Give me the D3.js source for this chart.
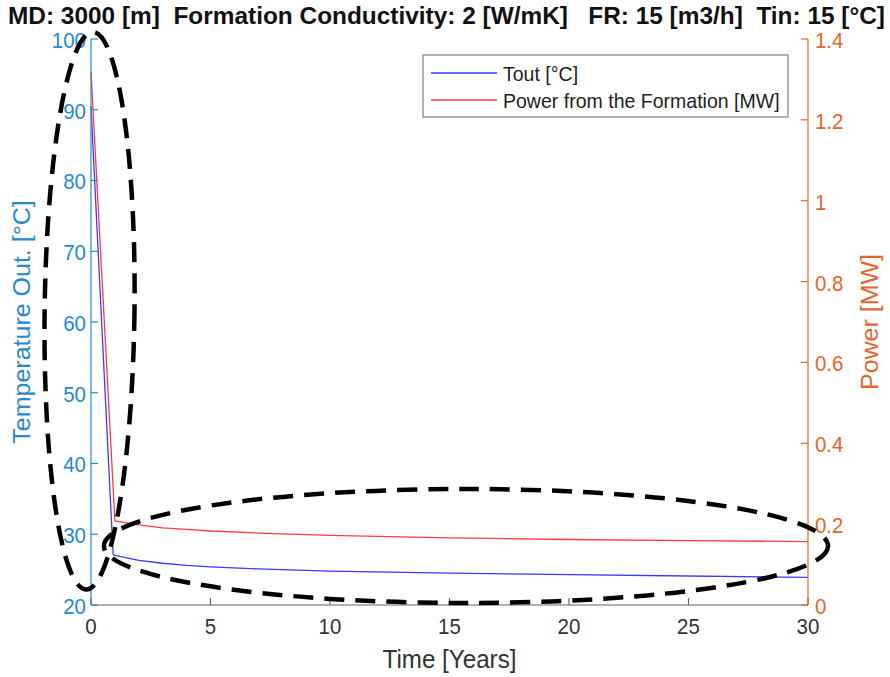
<!DOCTYPE html>
<html><head><meta charset="utf-8">
<script src="https://cdn.jsdelivr.net/npm/d3@7/dist/d3.min.js"></script>
<style>
html,body{margin:0;padding:0;background:#fff;}
svg{display:block;font-family:"Liberation Sans",Arial,Helvetica,sans-serif;}
.pre{white-space:pre;}
</style></head>
<body>
<svg id="chart" width="890" height="677"></svg>
<script>
// ---- data ----
const titleText = "MD: 3000 [m]  Formation Conductivity: 2 [W/mK]   FR: 15 [m3/h]  Tin: 15 [°C]";
const toutTime  = [0, 0.88, 0.93, 1, 2, 3, 4, 5, 7, 10, 15, 20, 25, 30];
const toutValue = [90.5, 30.2, 27.1, 27.0, 26.3, 25.9, 25.6, 25.4, 25.1, 24.8, 24.5, 24.3, 24.1, 23.9];
const powerTime  = [0, 1, 1.5, 2, 3, 4, 5, 7, 10, 15, 20, 25, 30];
const powerValue = [1.32, 0.208, 0.203, 0.198, 0.191, 0.187, 0.183, 0.178, 0.172, 0.166, 0.162, 0.159, 0.157];
const xTicks = [0, 5, 10, 15, 20, 25, 30];
const yLeftTicks = [20, 30, 40, 50, 60, 70, 80, 90, 100];
const yRightTicks = [0, 0.2, 0.4, 0.6, 0.8, 1, 1.2, 1.4];
const legendLabels = ["Tout [°C]", "Power from the Formation [MW]"];
// annotation ellipses in data units (time, temperature): cx, cy, rx, ry, rotation
const ellipseCx = [-0.06, 15.69];
const ellipseCy = [61.6, 28.34];
const ellipseRx = [1.88, 15.15];
const ellipseRy = [39.4, 8.06];
const ellipseRot = [0.7, 0];

// ---- layout ----
const L = 91, R = 808, T = 39, B = 605;
const sx = 0.93;
const cBlue = "#2589D0", cOrange = "#E5652E", cText = "#333333";

const svg = d3.select("#chart");
const x = d3.scaleLinear().domain([0, 30]).range([L, R]);
const yL = d3.scaleLinear().domain([20, 100]).range([B, T]);
const yR = d3.scaleLinear().domain([0, 1.4]).range([B, T]);

function txt(g, xx, yy, s, opts) {
  const t = g.append("text")
    .attr("transform", `translate(${xx},${yy}) scale(${opts.sx ?? sx},1)` + (opts.rot ? ` rotate(${opts.rot})` : ""))
    .attr("font-size", opts.size)
    .attr("fill", opts.fill)
    .attr("text-anchor", opts.anchor || "start")
    .attr("font-weight", opts.weight || "normal")
    .text(s);
  if (opts.dy) t.attr("dy", opts.dy);
  return t;
}

// lines
const lineT = d3.line().x((d, i) => x(toutTime[i])).y(d => yL(d));
const lineP = d3.line().x((d, i) => x(powerTime[i])).y(d => yR(d));
svg.append("path").datum(powerValue).attr("d", lineP)
  .attr("fill", "none").attr("stroke", "#ff3b3b").attr("stroke-width", 1.3);
svg.append("path").datum(toutValue).attr("d", lineT)
  .attr("fill", "none").attr("stroke", "#3b3bff").attr("stroke-width", 1.3);

// bottom axis
const gx = svg.append("g");
gx.append("line").attr("x1", L).attr("x2", R).attr("y1", B).attr("y2", B)
  .attr("stroke", "#666").attr("stroke-width", 1.2);
xTicks.forEach(v => {
  gx.append("line").attr("x1", x(v)).attr("x2", x(v)).attr("y1", B).attr("y2", B - 7)
    .attr("stroke", "#666").attr("stroke-width", 1.2);
  txt(gx, x(v), B + 29, String(v), {size: 22, fill: cText, anchor: "middle"});
});
txt(gx, (L + R) / 2, 668, "Time [Years]", {size: 26, fill: cText, anchor: "middle"});

// left axis
const gl = svg.append("g");
gl.append("line").attr("x1", L).attr("x2", L).attr("y1", T).attr("y2", B)
  .attr("stroke", cBlue).attr("stroke-width", 1.2);
yLeftTicks.forEach(v => {
  gl.append("line").attr("x1", L).attr("x2", L + 7).attr("y1", yL(v)).attr("y2", yL(v))
    .attr("stroke", cBlue).attr("stroke-width", 1.2);
  txt(gl, L - 5, yL(v) + 1, String(v), {size: 22, fill: cBlue, anchor: "end", dy: "0.36em"});
});
txt(gl, 30, (T + B) / 2, "Temperature Out. [°C]", {size: 25, fill: cBlue, anchor: "middle", rot: -90});

// right axis
const gr = svg.append("g");
gr.append("line").attr("x1", R).attr("x2", R).attr("y1", T).attr("y2", B)
  .attr("stroke", cOrange).attr("stroke-width", 1.2);
yRightTicks.forEach(v => {
  gr.append("line").attr("x1", R).attr("x2", R - 7).attr("y1", yR(v)).attr("y2", yR(v))
    .attr("stroke", cOrange).attr("stroke-width", 1.2);
  txt(gr, R + 7, yR(v) + 1, String(v), {size: 22, fill: cOrange, anchor: "start", dy: "0.36em"});
});
txt(gr, 878, (T + B) / 2, "Power [MW]", {size: 25, fill: cOrange, anchor: "middle", rot: -90});

// title
svg.append("text").attr("class", "pre").attr("xml:space", "preserve")
  .attr("x", 8).attr("y", 24)
  .attr("font-size", 24).attr("font-weight", "bold").attr("fill", "#111")
  .attr("textLength", 877).attr("lengthAdjust", "spacingAndGlyphs")
  .text(titleText);

// legend
const lg = svg.append("g");
lg.append("rect").attr("x", 423).attr("y", 55).attr("width", 365).attr("height", 62)
  .attr("fill", "#fff").attr("stroke", "#666").attr("stroke-width", 1);
const legColors = ["#3b3bff", "#ff3b3b"];
legendLabels.forEach((s, i) => {
  const yy = 73 + i * 27;
  lg.append("line").attr("x1", 431).attr("x2", 497).attr("y1", yy).attr("y2", yy)
    .attr("stroke", legColors[i]).attr("stroke-width", 1.3);
  txt(lg, 503, yy, s, {size: 21, fill: "#222", anchor: "start", dy: "0.36em"});
});

// dashed annotation ellipses
ellipseCx.forEach((cx, i) => {
  const px = x(cx), py = yL(ellipseCy[i]);
  const rx = x(ellipseRx[i]) - x(0), ry = yL(20) - yL(20 + ellipseRy[i]);
  svg.append("ellipse")
    .attr("transform", `translate(${px},${py}) rotate(${ellipseRot[i]})`)
    .attr("rx", rx).attr("ry", ry)
    .attr("fill", "none").attr("stroke", "#000").attr("stroke-width", 4.5)
    .attr("stroke-dasharray", "20 11");
});
</script>
</body></html>
